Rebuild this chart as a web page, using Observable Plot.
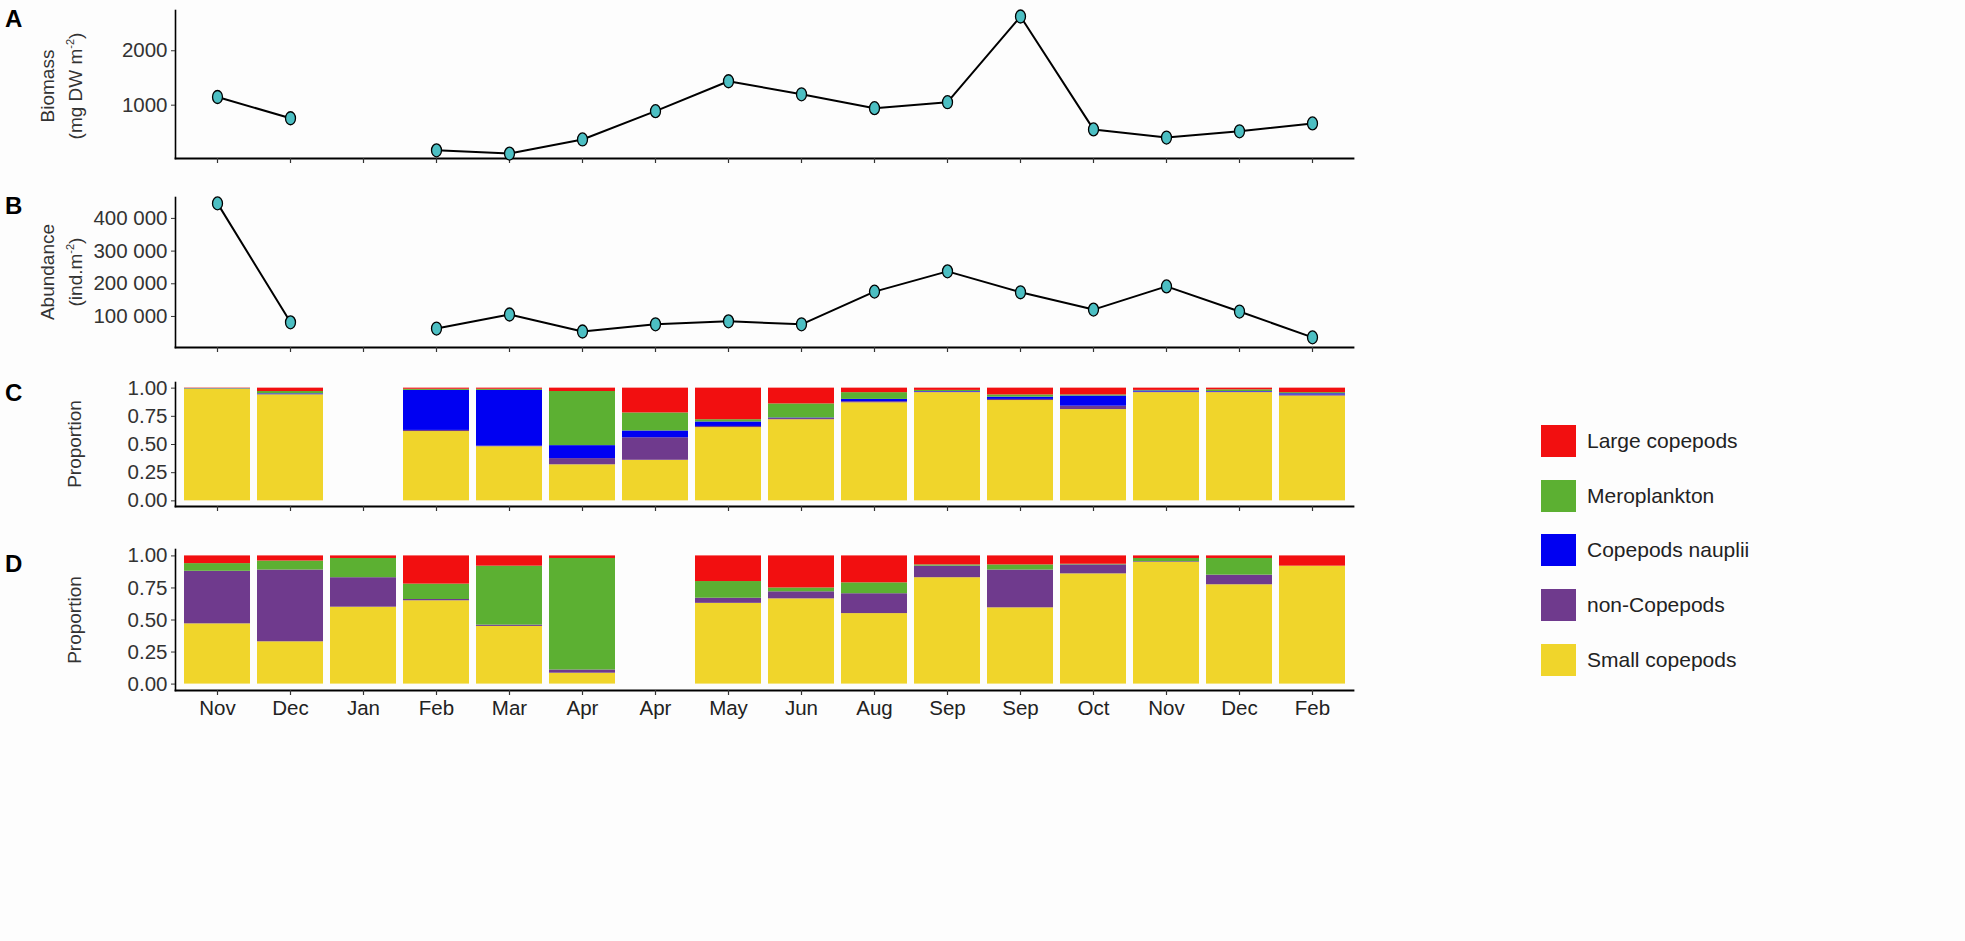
<!DOCTYPE html>
<html>
<head>
<meta charset="utf-8">
<script src="https://cdn.jsdelivr.net/npm/d3@7"></script>
<script src="https://cdn.jsdelivr.net/npm/@observablehq/plot@0.6"></script>
<style>
  html, body { margin: 0; padding: 0; background: #fdfdfd; }
  #root { position: relative; width: 1965px; height: 941px; font-family: "Liberation Sans", Arial, sans-serif; color: #333; }
  .panel { position: absolute; left: 0; }
  .plab { position: absolute; left: 5px; font-weight: bold; font-size: 24px; color: #000; transform: translateY(-50%); }
  .ytitle { position: absolute; font-size: 19px; color: #333; white-space: nowrap; transform: translate(-50%, -50%) rotate(-90deg); text-align: center; line-height: 22px; }
  .ytitle sup { font-size: 11px; }
  .legend { position: absolute; left: 1541px; top: 0; }
  .li { position: absolute; left: 0; display: flex; align-items: center; white-space: nowrap; transform: translateY(-50%); }
  .sw { width: 35px; height: 32px; margin-right: 11px; }
  .lt { font-size: 21px; color: #222; }
</style>
</head>
<body>
<div id="root"></div>
<script>
// ---- categories (sampling dates) ----
const keys   = ["Nov1","Dec1","Jan","Feb1","Mar","Apr1","Apr2","May","Jun","Aug","Sep1","Sep2","Oct","Nov2","Dec2","Feb2"];
const labels = ["Nov","Dec","Jan","Feb","Mar","Apr","Apr","May","Jun","Aug","Sep","Sep","Oct","Nov","Dec","Feb"];

// ---- panel A: biomass (mg DW m-2) ----
const biomass = [1150, 760, null, 170, 110, 370, 890, 1440, 1200, 945, 1055, 2630, 555, 405, 520, 665];
const biomassTicks = [1000, 2000];

// ---- panel B: abundance (ind. m-2) ----
const abundance = [446000, 82000, null, 63000, 106000, 54000, 76000, 85000, 76000, 176000, 238000, 174000, 121000, 192000, 115000, 36000];
const abundanceTicks = [100000, 200000, 300000, 400000];

// ---- groups (stack order bottom -> top) ----
const groups = ["Small copepods", "non-Copepods", "Copepods nauplii", "Meroplankton", "Large copepods"];
const groupColors = ["#f0d52b", "#6f3a8d", "#0000f2", "#5cb032", "#f20f10"];
const legendOrder = ["Large copepods", "Meroplankton", "Copepods nauplii", "non-Copepods", "Small copepods"];
const propTicks = [0, 0.25, 0.5, 0.75, 1];

// ---- panel C proportions per category: [small, nonCop, nauplii, mero, large] ----
const propC = [
  [0.99, 0.002, 0.002, 0.003, 0.003],
  [0.94, 0.005, 0.005, 0.02, 0.03],
  null,
  [0.615, 0.01, 0.355, 0.01, 0.01],
  [0.48, 0.005, 0.495, 0.01, 0.01],
  [0.32, 0.055, 0.115, 0.48, 0.03],
  [0.36, 0.20, 0.06, 0.16, 0.22],
  [0.65, 0.01, 0.04, 0.02, 0.28],
  [0.72, 0.01, 0.005, 0.125, 0.14],
  [0.87, 0.01, 0.02, 0.06, 0.04],
  [0.96, 0.005, 0.005, 0.01, 0.02],
  [0.89, 0.01, 0.02, 0.02, 0.06],
  [0.81, 0.03, 0.09, 0.01, 0.06],
  [0.96, 0.005, 0.01, 0.005, 0.02],
  [0.96, 0.005, 0.005, 0.015, 0.015],
  [0.93, 0.01, 0.01, 0.01, 0.04]
];

// ---- panel D proportions per category: [small, nonCop, nauplii, mero, large] ----
const propD = [
  [0.47, 0.41, 0, 0.06, 0.06],
  [0.33, 0.56, 0, 0.07, 0.04],
  [0.60, 0.23, 0, 0.15, 0.02],
  [0.65, 0.01, 0, 0.12, 0.22],
  [0.45, 0.01, 0, 0.46, 0.08],
  [0.085, 0.025, 0, 0.87, 0.02],
  null,
  [0.63, 0.04, 0, 0.13, 0.20],
  [0.665, 0.055, 0, 0.03, 0.25],
  [0.55, 0.155, 0, 0.085, 0.21],
  [0.83, 0.09, 0, 0.01, 0.07],
  [0.595, 0.295, 0, 0.04, 0.07],
  [0.86, 0.07, 0, 0.005, 0.065],
  [0.95, 0.005, 0, 0.025, 0.02],
  [0.775, 0.075, 0, 0.13, 0.02],
  [0.92, 0, 0, 0, 0.08]
];

// ---------- build ----------
const root = document.getElementById("root");
const W = 1365, ML = 175, MR = 12;
const font = "20.5px";
const labelOf = new Map(keys.map((k, i) => [k, labels[i]]));
const spaced = d => d3.format(",")(d).replace(/,/g, " ");

const ellipse = {
  draw(ctx, size) {
    const r = Math.sqrt(size / Math.PI);
    const rx = r * 0.86, ry = r * 1.12, k = 0.5523;
    ctx.moveTo(0, -ry);
    ctx.bezierCurveTo(k * rx, -ry, rx, -k * ry, rx, 0);
    ctx.bezierCurveTo(rx, k * ry, k * rx, ry, 0, ry);
    ctx.bezierCurveTo(-k * rx, ry, -rx, k * ry, -rx, 0);
    ctx.bezierCurveTo(-rx, -k * ry, -k * rx, -ry, 0, -ry);
    ctx.closePath();
  }
};

function place(el, top) {
  const d = document.createElement("div");
  d.className = "panel";
  d.style.top = top + "px";
  d.appendChild(el);
  root.appendChild(d);
}

const baseStyle = { fontFamily: "Liberation Sans, Arial, sans-serif", fontSize: font, color: "#333", background: "transparent", overflow: "visible" };

function linePanel(values, ticks, domain, height, mt, mb, fmt) {
  const data = keys.map((k, i) => ({ key: k, v: values[i] }));
  return Plot.plot({
    width: W, height, marginLeft: ML, marginRight: MR, marginTop: mt, marginBottom: mb,
    style: baseStyle,
    x: { type: "point", domain: keys, padding: 0.5 },
    y: { domain },
    marks: [
      Plot.frame({ anchor: "left", stroke: "#000", strokeWidth: 1.6 }),
      Plot.frame({ anchor: "bottom", stroke: "#000", strokeWidth: 1.8 }),
      Plot.axisX({ tickSize: 5, tickFormat: () => "", label: null, strokeWidth: 1.2 }),
      Plot.axisY({ ticks, tickSize: 4, tickPadding: 4, tickFormat: fmt, label: null, fill: "#333" }),
      Plot.line(data, { x: "key", y: "v", stroke: "#000", strokeWidth: 2 }),
      Plot.dot(data.filter(d => d.v != null), { x: "key", y: "v", r: 5.8, symbol: ellipse, fill: "#4cbfc3", stroke: "#000", strokeWidth: 1.3 })
    ]
  });
}

function barPanel(props, height, mt, mb, withLabels) {
  const rows = [];
  keys.forEach((k, i) => {
    if (!props[i]) return;
    groups.forEach((g, j) => rows.push({ key: k, group: g, p: props[i][j] }));
  });
  return Plot.plot({
    width: W, height, marginLeft: ML, marginRight: MR, marginTop: mt, marginBottom: mb,
    style: baseStyle,
    x: { type: "band", domain: keys, paddingInner: 0.1, paddingOuter: 0.05 },
    y: { domain: [-0.05, 1.05] },
    color: { domain: groups, range: groupColors },
    marks: [
      Plot.barY(rows, { x: "key", y: "p", fill: "group", order: groups }),
      Plot.frame({ anchor: "left", stroke: "#000", strokeWidth: 1.6 }),
      Plot.frame({ anchor: "bottom", stroke: "#000", strokeWidth: 1.8 }),
      Plot.axisX({ tickSize: 5, tickPadding: 5, label: null, strokeWidth: 1.2, fill: "#222",
        tickFormat: withLabels ? (k => labelOf.get(k)) : (() => "") }),
      Plot.axisY({ ticks: propTicks, tickSize: 4, tickPadding: 4, tickFormat: d3.format(".2f"), label: null, fill: "#333" })
    ]
  });
}

place(linePanel(biomass, biomassTicks, [20, 2740], 181, 10, 23, d => String(d)), 0);
place(linePanel(abundance, abundanceTicks, [5000, 464000], 185, 12, 23, spaced), 185);
place(barPanel(propC, 160, 12, 24, false), 370);
place(barPanel(propD, 201, 14, 46, true), 535);

// panel letters
[["A", 19], ["B", 206], ["C", 393], ["D", 564]].forEach(([t, y]) => {
  const d = document.createElement("div");
  d.className = "plab"; d.textContent = t; d.style.top = y + "px";
  root.appendChild(d);
});

// y-axis titles
function ytitle(html, cx, cy) {
  const d = document.createElement("div");
  d.className = "ytitle"; d.innerHTML = html;
  d.style.left = cx + "px"; d.style.top = cy + "px";
  root.appendChild(d);
}
ytitle("Biomass<br>(mg DW m<sup>-2</sup>)", 62, 86);
ytitle("Abundance<br>(ind.m<sup>-2</sup>)", 62, 272);
ytitle("Proportion", 75, 444);
ytitle("Proportion", 75, 620);

// legend
const leg = document.createElement("div");
leg.className = "legend";
const legY = [441, 496, 550, 605, 660];
legendOrder.forEach((g, i) => {
  const it = document.createElement("div");
  it.className = "li"; it.style.top = legY[i] + "px";
  const sw = document.createElement("div");
  sw.className = "sw"; sw.style.background = groupColors[groups.indexOf(g)];
  const tx = document.createElement("span");
  tx.className = "lt"; tx.textContent = g;
  it.appendChild(sw); it.appendChild(tx);
  leg.appendChild(it);
});
root.appendChild(leg);
</script>
</body>
</html>
